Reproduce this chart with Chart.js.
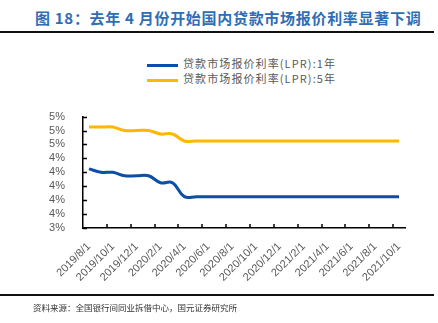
<!DOCTYPE html>
<html>
<head>
<meta charset="utf-8">
<script src="https://cdn.jsdelivr.net/npm/chart.js@4/dist/chart.umd.min.js"></script>
<style>
  body { margin: 0; width: 438px; height: 323px; background: #fff; position: relative; overflow: hidden; font-family: "Noto Sans CJK SC", sans-serif; }
  #title { position: absolute; left: 35px; top: 7px; font-size: 15px; font-weight: bold; color: #2f6db5; white-space: nowrap; letter-spacing: 0.7px; }
  .rule { position: absolute; left: 0; width: 434px; height: 2px; background: #111; }
  #legend { position: absolute; left: 147px; top: 56px; font-size: 11px; color: #595959; }
  .item { height: 15px; line-height: 15px; white-space: nowrap; letter-spacing: 1.1px; }
  .swatch { display: inline-block; width: 31px; height: 3px; vertical-align: middle; margin-right: 5px; }
  #source { position: absolute; left: 33px; top: 301px; font-size: 8.5px; color: #333; white-space: nowrap; }
  #box { position: absolute; left: 0; top: 100px; width: 438px; height: 195px; }
</style>
</head>
<body>
<div id="title">图 18：去年 4 月份开始国内贷款市场报价利率显著下调</div>
<div class="rule" style="top:31px"></div>
<div id="legend">
  <div class="item"><span class="swatch" style="background:#0d4ea6"></span>贷款市场报价利率(LPR):1年</div>
  <div class="item"><span class="swatch" style="background:#ffb800"></span>贷款市场报价利率(LPR):5年</div>
</div>
<div id="box"><canvas id="myChart"></canvas></div>
<div class="rule" style="top:294px"></div>
<div id="source">资料来源：全国银行间同业拆借中心，国元证券研究所</div>
<script>
// monthly, 2019/8/1 .. 2021/10/1
var labels = ['2019/8/1','2019/9/1','2019/10/1','2019/11/1','2019/12/1',
  '2020/1/1','2020/2/1','2020/3/1','2020/4/1','2020/5/1','2020/6/1','2020/7/1','2020/8/1','2020/9/1','2020/10/1','2020/11/1','2020/12/1',
  '2021/1/1','2021/2/1','2021/3/1','2021/4/1','2021/5/1','2021/6/1','2021/7/1','2021/8/1','2021/9/1','2021/10/1'];

var lpr1y = [4.25,4.20,4.20,4.15,4.15,4.15,4.05,4.05,3.85,3.85,3.85,3.85,3.85,3.85,3.85,3.85,3.85,
  3.85,3.85,3.85,3.85,3.85,3.85,3.85,3.85,3.85,3.85];
var lpr5y = [4.85,4.85,4.85,4.80,4.80,4.80,4.75,4.75,4.65,4.65,4.65,4.65,4.65,4.65,4.65,4.65,4.65,
  4.65,4.65,4.65,4.65,4.65,4.65,4.65,4.65,4.65,4.65];

// short tick marks pointing into the plot
var innerTicks = {
  id: 'innerTicks',
  afterDraw: function(chart) {
    var ctx = chart.ctx, area = chart.chartArea;
    var x = chart.scales.x, y = chart.scales.y;
    ctx.save();
    ctx.strokeStyle = '#000';
    ctx.lineWidth = 1.5;
    ctx.beginPath();
    y.ticks.forEach(function(t, i) {
      var py = Math.round(y.getPixelForTick(i)) + 0.5;
      ctx.moveTo(area.left, py);
      ctx.lineTo(area.left + 4, py);
    });
    var w = x.getPixelForTick(1) - x.getPixelForTick(0);
    for (var i = 2; i < labels.length; i += 2) {
      var px = Math.round(x.getPixelForTick(i) - w / 2);
      ctx.moveTo(px, area.bottom);
      ctx.lineTo(px, area.bottom - 4);
    }
    ctx.stroke();
    ctx.restore();
  }
};

var ctx = document.getElementById('myChart').getContext('2d');
var myChart = new Chart(ctx, {
  type: 'line',
  data: {
    labels: labels,
    datasets: [
      { label: '贷款市场报价利率(LPR):1年', data: lpr1y, borderColor: '#0d4ea6', backgroundColor: '#0d4ea6', borderWidth: 3, pointRadius: 0, tension: 0.4 },
      { label: '贷款市场报价利率(LPR):5年', data: lpr5y, borderColor: '#ffb800', backgroundColor: '#ffb800', borderWidth: 3, pointRadius: 0, tension: 0.4 }
    ]
  },
  options: {
    responsive: true,
    maintainAspectRatio: false,
    animation: false,
    layout: { padding: { top: 16, right: 33, bottom: 5, left: 0 } },
    plugins: { legend: { display: false }, tooltip: { enabled: false } },
    scales: {
      x: {
        offset: true,
        grid: { display: false },
        border: { color: '#000', width: 1.5 },
        ticks: {
          autoSkip: false, minRotation: 45, maxRotation: 45, padding: 4,
          color: '#595959', font: { family: 'Liberation Sans, Arial', size: 11 },
          callback: function(v, i) { return i % 2 === 0 ? labels[i] : ''; }
        },
        afterFit: function(s) { s.height = 62; }
      },
      y: {
        min: 3.4, max: 5.0,
        grid: { display: false },
        border: { color: '#000', width: 1.5 },
        ticks: {
          stepSize: 0.2, autoSkip: false, padding: 10,
          color: '#595959', font: { family: 'Liberation Sans, Arial', size: 11 },
          callback: function(v) { return v.toFixed(0) + '%'; }
        },
        afterFit: function(s) { s.width = 83; }
      }
    }
  },
  plugins: [innerTicks]
});
</script>
</body>
</html>
